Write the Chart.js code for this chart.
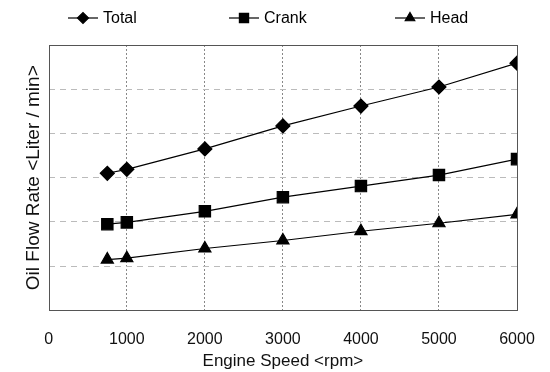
<!DOCTYPE html>
<html>
<head>
<meta charset="utf-8">
<script src="https://cdn.jsdelivr.net/npm/chart.js@4"></script>
<style>
  body { margin: 0; background: #fff; }
  #wrap { width: 550px; height: 372px; }
</style>
</head>
<body>
<div id="wrap"><canvas id="line-chart" width="550" height="372"></canvas></div>
<script>
// engine speed (rpm) and oil flow rate readings
var rpm = [750, 1000, 2000, 3000, 4000, 5000, 6000];
var total = [31.0, 31.9, 36.5, 41.7, 46.2, 50.5, 55.9];
var crank = [19.5, 19.9, 22.4, 25.6, 28.1, 30.6, 34.2];
var head = [11.5, 11.8, 14.0, 15.8, 17.9, 19.7, 21.7];
var xTicks = [0, 1000, 2000, 3000, 4000, 5000, 6000];

function pts(vals) {
  return rpm.map(function (r, i) { return { x: r, y: vals[i] }; });
}

var FONT = "'Liberation Sans', Arial, sans-serif";

// box round the plot area
var frame = {
  id: 'frame',
  afterDatasetsDraw: function (chart) {
    var a = chart.chartArea, ctx = chart.ctx;
    ctx.save();
    ctx.strokeStyle = '#555';
    ctx.lineWidth = 1;
    ctx.strokeRect(Math.round(a.left) + 0.5, Math.round(a.top) + 0.5,
      Math.round(a.right - a.left), Math.round(a.bottom - a.top));
    ctx.restore();
  }
};

// legend: line with marker, then label, spread across the top
var topLegend = {
  id: 'topLegend',
  afterDraw: function (chart) {
    var ctx = chart.ctx;
    var starts = [68, 229, 395];
    ctx.save();
    ctx.font = '16px ' + FONT;
    ctx.textBaseline = 'middle';
    chart.data.datasets.forEach(function (ds, i) {
      var x0 = starts[i], y = 18;
      ctx.strokeStyle = '#000';
      ctx.fillStyle = '#000';
      ctx.lineWidth = 1.2;
      ctx.beginPath();
      ctx.moveTo(x0, y);
      ctx.lineTo(x0 + 30, y);
      ctx.stroke();
      Chart.helpers.drawPoint(ctx, {
        pointStyle: ds.pointStyle, radius: ds.pointRadius - 1.5,
        rotation: 0, borderWidth: 1
      }, x0 + 15, y);
      ctx.fillText(ds.label, x0 + 35, y + 1);
    });
    ctx.restore();
  }
};

// no grid line on the edges, the frame draws them
function inner(color, lo, hi) {
  return function (c) {
    var v = c.tick ? c.tick.value : null;
    return (v === lo || v === hi) ? 'rgba(0,0,0,0)' : color;
  };
}

new Chart(document.getElementById("line-chart"), {
  type: 'line',
  data: {
    datasets: [{
      data: pts(total),
      label: "Total",
      borderColor: "#000",
      backgroundColor: "#000",
      borderWidth: 1.2,
      pointStyle: 'rectRot',
      pointRadius: 7,
      fill: false
    }, {
      data: pts(crank),
      label: "Crank",
      borderColor: "#000",
      backgroundColor: "#000",
      borderWidth: 1.2,
      pointStyle: 'rect',
      pointRadius: 8,
      fill: false
    }, {
      data: pts(head),
      label: "Head",
      borderColor: "#000",
      backgroundColor: "#000",
      borderWidth: 1.2,
      pointStyle: 'triangle',
      pointRadius: 7,
      fill: false
    }]
  },
  options: {
    responsive: false,
    animation: false,
    layout: { padding: { top: 45, left: 18, right: 33, bottom: 0 } },
    plugins: {
      legend: { display: false },
      tooltip: { enabled: false }
    },
    scales: {
      x: {
        type: 'linear',
        min: 0,
        max: 6000,
        afterBuildTicks: function (s) {
          s.ticks = xTicks.map(function (v) { return { value: v }; });
        },
        ticks: {
          color: '#111',
          padding: 4,
          maxRotation: 0,
          font: { family: FONT, size: 16 },
          callback: function (v) { return String(v); }
        },
        grid: {
          color: inner('#888', 0, 6000),
          drawTicks: true,
          tickLength: 16,
          tickColor: 'rgba(0,0,0,0)'
        },
        border: { display: false, dash: [2, 2] },
        title: {
          display: true,
          text: 'Engine Speed <rpm>',
          color: '#111',
          padding: { top: -2, bottom: 0 },
          font: { family: FONT, size: 17 }
        }
      },
      y: {
        min: 0,
        max: 60,
        ticks: { display: false, stepSize: 10 },
        grid: {
          color: inner('#bbb', 0, 60),
          drawTicks: false
        },
        border: { display: false, dash: [6, 5] },
        title: {
          display: true,
          text: 'Oil Flow Rate <Liter / min>',
          color: '#111',
          padding: { top: 4, bottom: 4 },
          font: { family: FONT, size: 19 }
        }
      }
    }
  },
  plugins: [frame, topLegend]
});
</script>
</body>
</html>
